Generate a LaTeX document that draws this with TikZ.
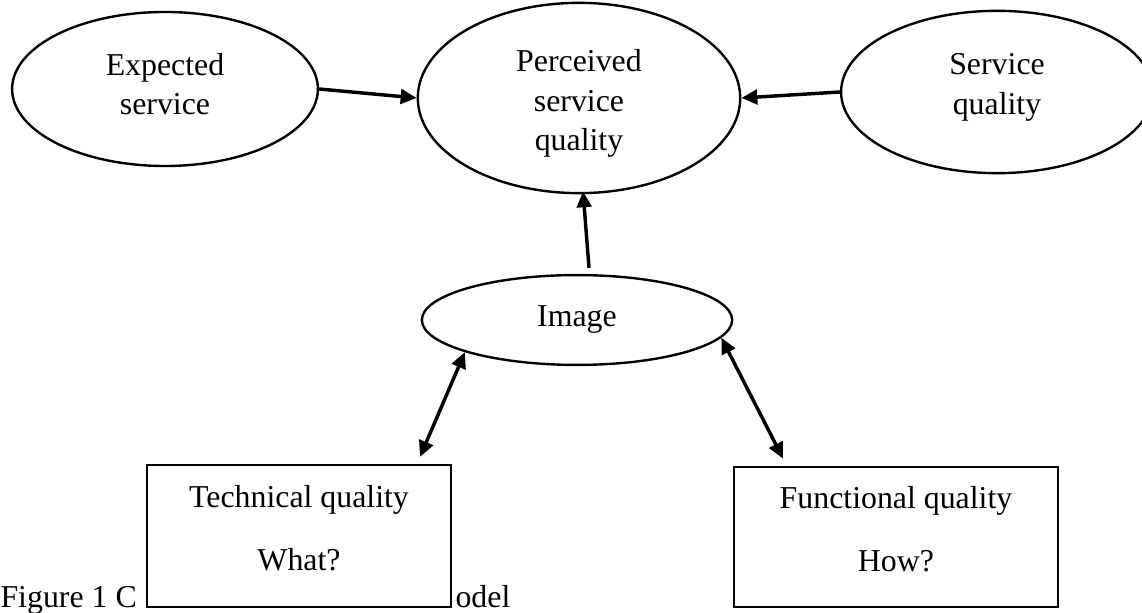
\documentclass[tikz,border=0pt]{standalone}
\usepackage{fontspec}
\setmainfont{Liberation Serif}
\usetikzlibrary{shapes.geometric, arrows.meta}

\begin{document}
\begin{tikzpicture}[
  x=0.01325cm, y=-0.01325cm,
  oval/.style={
    ellipse, draw, line width=0.9pt, inner sep=0pt,
    align=center, font=\fontsize{12}{14.8}\selectfont
  },
  qbox/.style={
    rectangle, draw, fill=white, line width=0.9pt,
    align=center, font=\fontsize{12}{14.8}\selectfont, text depth=6pt
  },
  arr/.style={-{Triangle[length=6pt, width=5.5pt]}, line width=1.3pt},
  darr/.style={{Triangle[length=6pt, width=5.5pt]}-{Triangle[length=6pt, width=5.5pt]}, line width=1.3pt},
  capt/.style={anchor=base west, inner sep=0pt, font=\fontsize{12}{14.8}\selectfont}
]
\useasboundingbox (0,0) rectangle (1142,613);

% caption, partly hidden by the left box
\node[capt] (figlbl) at (0,607) {Figure 1 C};
\node[capt] (figend) at (455,607) {odel};

\node[oval, minimum width=4.05cm, minimum height=2.04cm, text depth=4pt] (expected) at (165,89) {Expected\\service};
\node[oval, minimum width=4.27cm, minimum height=2.52cm, text height=42pt] (perceived) at (579,98) {Perceived\\service\\quality};
\node[oval, minimum width=4.13cm, minimum height=2.15cm, text depth=6pt] (service) at (997,92) {Service\\quality};
\node[oval, minimum width=4.11cm, minimum height=1.19cm] (image) at (577,320) {Image};

\node[qbox, minimum width=4.03cm, minimum height=1.88cm] (technical) at (299,536) {Technical quality\\[9.2pt]What?};
\node[qbox, minimum width=4.29cm, minimum height=1.86cm] (functional) at (896,537) {Functional quality\\[9.2pt]How?};

\draw[arr] (expected.east) -- (perceived.west);
\draw[arr] (service.west) -- (perceived.east);
\draw[arr] ([shift={(12,-6)}]image.north) -- ([shift={(4,-3)}]perceived.south);
\draw[darr] (image.196) -- ([shift={(121,-7)}]technical.north);
\draw[darr] (image.-7) -- ([shift={(-113,-7)}]functional.north);
\end{tikzpicture}
\end{document}
